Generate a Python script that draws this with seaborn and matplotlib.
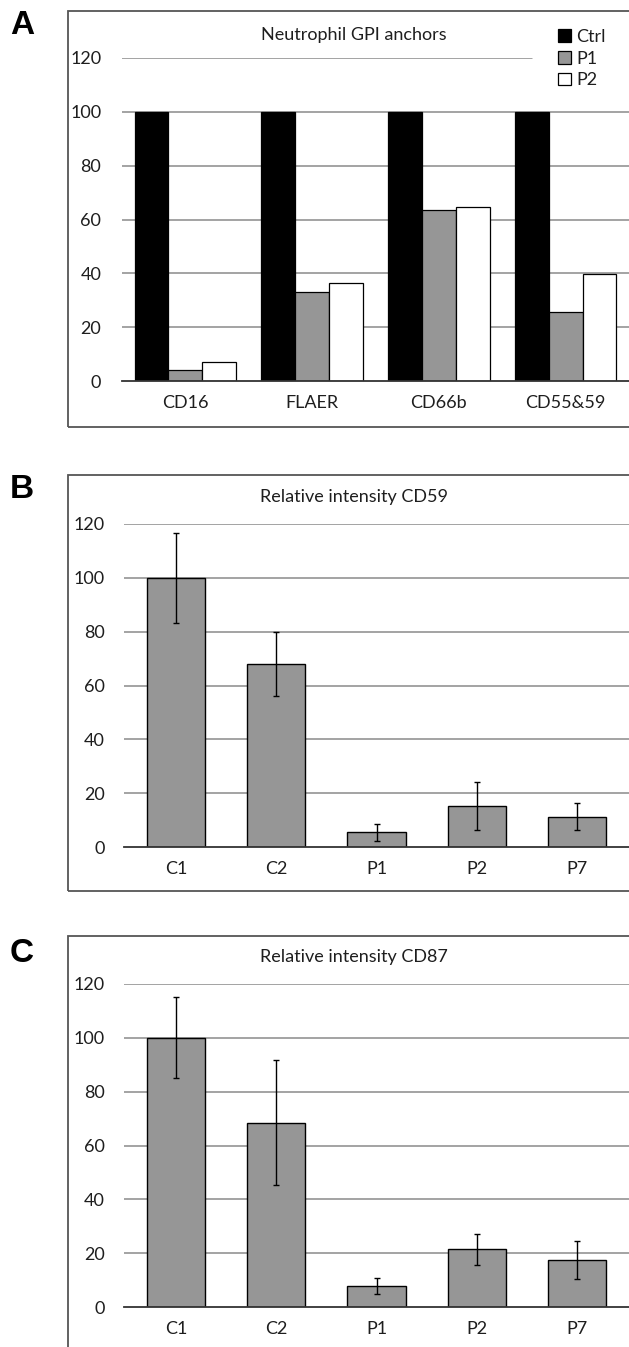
import numpy as np
import pandas as pd
import matplotlib
matplotlib.use("Agg")
import matplotlib.pyplot as plt
import seaborn as sns
from matplotlib.patches import Rectangle

# ---------------- data ----------------
a_categories = ["CD16", "FLAER", "CD66b", "CD55&59"]
a_groups = ["Ctrl", "P1", "P2"]
a_ctrl = [100, 100, 100, 100]
a_p1 = [4.1, 33.0, 63.6, 25.8]
a_p2 = [7.0, 36.5, 64.8, 39.8]

b_categories = ["C1", "C2", "P1", "P2", "P7"]
b_values = [100, 68.0, 5.4, 15.3, 11.3]
b_errors = [16.7, 11.8, 3.3, 8.8, 4.9]

c_categories = ["C1", "C2", "P1", "P2", "P7"]
c_values = [100, 68.5, 7.8, 21.4, 17.5]
c_errors = [15.0, 23.3, 3.0, 5.7, 7.2]

yticks = [0, 20, 40, 60, 80, 100, 120]
titles = ["Neutrophil GPI anchors", "Relative intensity CD59", "Relative intensity CD87"]
panel_letters = ["A", "B", "C"]

# ---------------- style ----------------
sns.set_style("white")
plt.rcParams["font.family"] = ["Lato", "DejaVu Sans"]

W, H = 629, 1347
fig = plt.figure(figsize=(W / 100, H / 100), dpi=100)


def add_ax(l, r, t, b):
    return fig.add_axes([l / W, 1 - b / H, (r - l) / W, (b - t) / H])


GRAY = "#969696"
GRID = "#8a8a8a"
TXT = "#1e1e1e"
FS = 13


def style_ax(ax, ypad, xpad, top_grid_end=1.0):
    ax.set_ylim(0, 120)
    ax.set_yticks(yticks)
    ax.set_xlabel("")
    ax.set_ylabel("")
    for s in ["top", "right", "left"]:
        ax.spines[s].set_visible(False)
    ax.spines["bottom"].set_color("#333333")
    ax.spines["bottom"].set_linewidth(1.3)
    ax.spines["bottom"].set_zorder(5)
    ax.grid(False)
    for yv in yticks[1:]:
        xmax = top_grid_end if yv == yticks[-1] else 1.0
        ax.axhline(yv, xmin=0, xmax=xmax, color=GRID, linewidth=1.1, zorder=0)
    ax.tick_params(axis="y", length=0, pad=ypad, labelsize=FS, labelcolor=TXT)
    ax.tick_params(axis="x", length=0, pad=xpad, labelsize=FS, labelcolor=TXT)


# ---------------- panel A ----------------
axA = add_ax(122, 629, 58, 381)
rows = []
for i, cat in enumerate(a_categories):
    rows.append((cat, "Ctrl", a_ctrl[i]))
    rows.append((cat, "P1", a_p1[i]))
    rows.append((cat, "P2", a_p2[i]))
dfA = pd.DataFrame(rows, columns=["category", "group", "value"])
sns.barplot(data=dfA, x="category", y="value", hue="group", hue_order=a_groups,
            order=a_categories, palette=["black", GRAY, "white"],
            edgecolor="black", linewidth=0.9, width=0.8, errorbar=None,
            saturation=1, ax=axA, zorder=2)
style_ax(axA, ypad=15, xpad=10, top_grid_end=(532 - 122) / (629 - 122))
handles, labels = axA.get_legend_handles_labels()
axA.legend(handles, labels, loc="center left",
           bbox_to_anchor=(553 / W, 1 - 58.5 / H), bbox_transform=fig.transFigure,
           frameon=False, borderpad=0.3, handlelength=0.7, handleheight=0.7,
           handletextpad=0.3, labelspacing=0.32, fontsize=FS, labelcolor=TXT,
           borderaxespad=0)

# ---------------- panel B ----------------
axB = add_ax(124, 629, 524, 847)
dfB = pd.DataFrame({"category": b_categories, "value": b_values})
sns.barplot(data=dfB, x="category", y="value", order=b_categories, color=GRAY,
            saturation=1, edgecolor="black", linewidth=1.0, width=0.58,
            errorbar=None, ax=axB, zorder=2)
axB.errorbar(np.arange(len(b_categories)), b_values, yerr=b_errors, fmt="none",
             ecolor="black", elinewidth=1.0, capsize=2, capthick=1.0, zorder=6)
style_ax(axB, ypad=14, xpad=10)

# ---------------- panel C ----------------
axC = add_ax(124, 629, 984, 1307)
dfC = pd.DataFrame({"category": c_categories, "value": c_values})
sns.barplot(data=dfC, x="category", y="value", order=c_categories, color=GRAY,
            saturation=1, edgecolor="black", linewidth=1.0, width=0.58,
            errorbar=None, ax=axC, zorder=2)
axC.errorbar(np.arange(len(c_categories)), c_values, yerr=c_errors, fmt="none",
             ecolor="black", elinewidth=1.0, capsize=2, capthick=1.0, zorder=6)
style_ax(axC, ypad=14, xpad=10)

# ---------------- frames, titles, letters ----------------
frames = [(68, 11, 427), (68, 475, 891), (68, 936, 1360)]
for (l, t, b) in frames:
    fig.add_artist(Rectangle((l / W, 1 - b / H), (700 - l) / W, (b - t) / H,
                             transform=fig.transFigure, fill=False,
                             edgecolor="#555555", linewidth=1.3, zorder=10))

title_y = [35, 497, 957]
for ty, txt in zip(title_y, titles):
    fig.text(354 / W, 1 - ty / H, txt, ha="center", va="center", fontsize=FS,
             color=TXT)

letter_pos = [(22, 25), (22, 490), (22, 954)]
for (lx, ly), letter in zip(letter_pos, panel_letters):
    fig.text(lx / W, 1 - ly / H, letter, ha="center", va="center", fontsize=24,
             fontweight="bold", family=["Liberation Sans", "DejaVu Sans"],
             color="black")

fig.savefig("out.png", dpi=100)
